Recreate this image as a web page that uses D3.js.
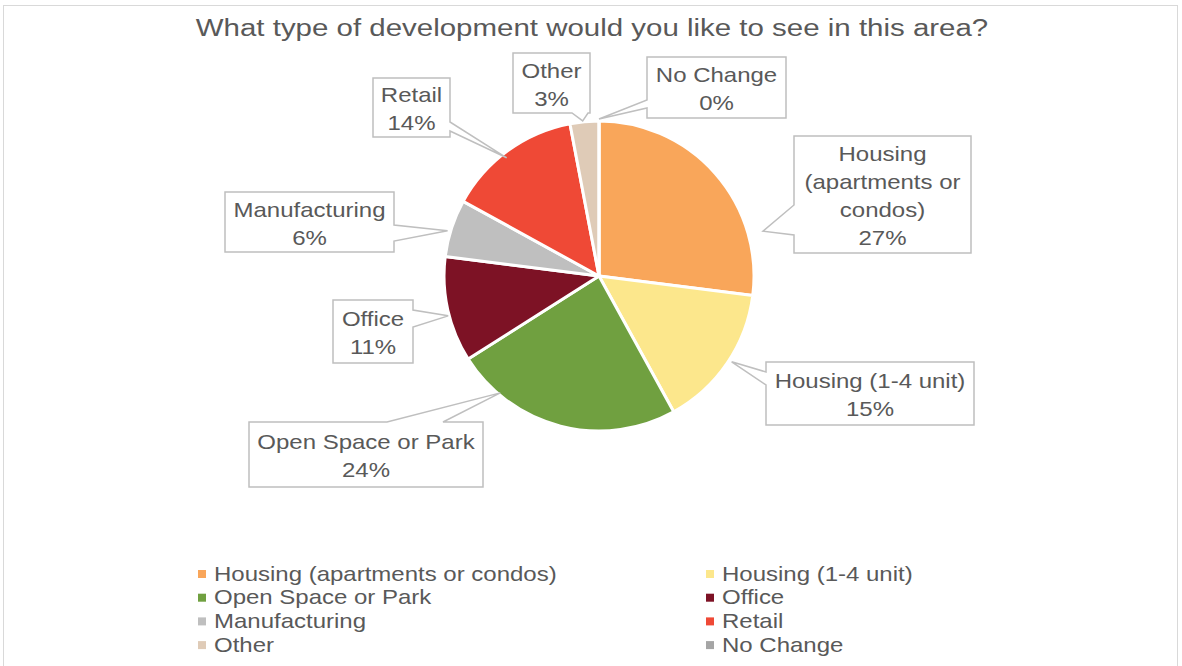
<!DOCTYPE html>
<html><head><meta charset="utf-8">
<script src="https://cdn.jsdelivr.net/npm/d3@7/dist/d3.min.js"></script>
<style>body{margin:0;background:#fff;} text{font-family:"Liberation Sans",Arial,sans-serif;fill:#595959;}</style>
</head><body>
<svg id="c" width="1182" height="666"></svg>
<script>
const categories = ["Housing (apartments or condos)","Housing (1-4 unit)","Open Space or Park","Office","Manufacturing","Retail","Other","No Change"];
const labelLines = [["Housing","(apartments or","condos)"],["Housing (1-4 unit)"],["Open Space or Park"],["Office"],["Manufacturing"],["Retail"],["Other"],["No Change"]];
const values = [27,15,24,11,6,14,3,0];
const colors = ["#F9A65A","#FCE78C","#70A040","#7D1225","#BFBFBF","#EF4936","#DFCBB7","#A5A5A5"];
const title = "What type of development would you like to see in this area?";

// layout (positions of callout boxes, pointer side/base, pointer tip angle)
const callouts = [
 {box:[794,136,971,253], side:"left", base:[205,235], tipAng:74.7, tipR:170},
 {box:[766,362,974,425], side:"left", base:[372,385], tipAng:122.9, tipR:158},
 {box:[249,422,483,487], side:"top", base:[387,443], tipAng:220.2, tipR:153},
 {box:[333,300,413,363], side:"right", base:[310,327], tipAng:255.2, tipR:156},
 {box:[225,192,394,252], side:"right", base:[225,241], tipAng:286.6, tipR:158},
 {box:[373,78,450,137], side:"right", base:[122,131], tipAng:322, tipR:150},
 {box:[513,53,590,113], side:"bottom", base:[572,588], tipAng:354, tipR:156},
 {box:[647,57,786,118], side:"left", base:[100,108], tipAng:0, tipR:157}
];
const cx = 599, cy = 276, R = 155;
const SX = 1.2;

const svg = d3.select("#c");
svg.append("rect").attr("x",3.5).attr("y",5.5).attr("width",1174).attr("height",700)
  .attr("fill","#fff").attr("stroke","#D9D9D9").attr("stroke-width",1);

function txt(sel, x, y, s, size, anchor, sx){
  return sel.append("text").attr("transform",`translate(${x},${y}) scale(${sx||SX},1)`)
    .attr("text-anchor",anchor||"start").attr("dominant-baseline","central")
    .attr("font-size",size).text(s);
}

txt(svg, 592, 28, title, 24, "middle", 1.228);

const pie = d3.pie().value(d=>d).sort(null);
const arcs = pie(values);
const arc = d3.arc().innerRadius(0).outerRadius(R);
const g = svg.append("g").attr("transform",`translate(${cx},${cy})`);
g.selectAll("path").data(arcs).join("path")
  .attr("d",arc).attr("fill",(d,i)=>colors[i])
  .attr("stroke","#fff").attr("stroke-width",3).attr("stroke-linejoin","round");

function calloutPath(c){
  const [x0,y0,x1,y1] = c.box;
  const a = c.tipAng*Math.PI/180;
  const tx = cx + c.tipR*Math.sin(a), ty = cy - c.tipR*Math.cos(a);
  const [b0,b1] = c.base;
  const p = d3.path();
  p.moveTo(x0,y0);
  if(c.side==="top"){ p.lineTo(b0,y0); p.lineTo(tx,ty); p.lineTo(b1,y0);} 
  p.lineTo(x1,y0);
  if(c.side==="right"){ p.lineTo(x1,b0); p.lineTo(tx,ty); p.lineTo(x1,b1);} 
  p.lineTo(x1,y1);
  if(c.side==="bottom"){ p.lineTo(b1,y1); p.lineTo(tx,ty); p.lineTo(b0,y1);} 
  p.lineTo(x0,y1);
  if(c.side==="left"){ p.lineTo(x0,b1); p.lineTo(tx,ty); p.lineTo(x0,b0);} 
  p.closePath();
  return p.toString();
}

const cg = svg.append("g");
callouts.forEach((c,i)=>{
  cg.append("path").attr("d",calloutPath(c)).attr("fill","#fff")
    .attr("stroke","#BFBFBF").attr("stroke-width",1.5);
  const lines = labelLines[i].concat([values[i]+"%"]);
  const xm = (c.box[0]+c.box[2])/2, ym = (c.box[1]+c.box[3])/2 + 2;
  const lh = 28;
  lines.forEach((t,j)=>{
    txt(cg, xm, ym + (j-(lines.length-1)/2)*lh, t, 20, "middle");
  });
});

// legend
const lg = svg.append("g");
categories.forEach((c,i)=>{
  const col = i%2, row = Math.floor(i/2);
  const x = col===0 ? 198 : 706;
  const y = 574 + row*23.7;
  lg.append("rect").attr("x",x).attr("y",y-4).attr("width",8).attr("height",8).attr("fill",colors[i]);
  txt(lg, x+16, y, c, 20, "start");
});
</script>
</body></html>
